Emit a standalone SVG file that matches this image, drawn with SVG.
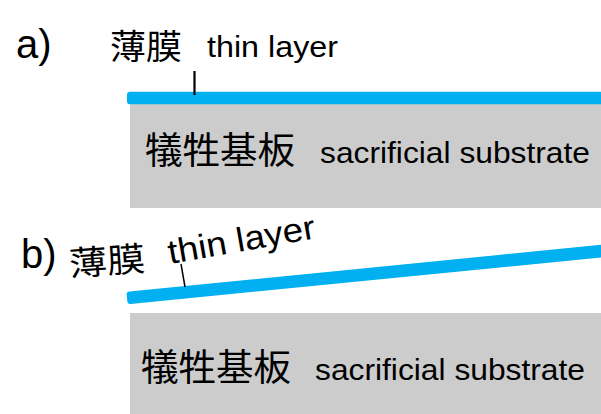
<svg xmlns="http://www.w3.org/2000/svg" width="601" height="414" viewBox="0 0 601 414">
<style>
.lat{font-family:"Liberation Sans",Arial,sans-serif;fill:#000}
.cjk{font-family:"Noto Sans CJK JP","Noto Sans CJK SC",sans-serif;fill:#000}
.sub{fill:#CCCCCC}
.film{fill:#00B0F0}
.tick{stroke:#000;fill:none}
</style>
<rect width="601" height="414" fill="#fff"/>
<g id="panel-a">
  <text class="lat" x="16" y="58" font-size="40">a)</text>
  <g id="substrate-a">
    <rect class="sub" x="130" y="104" width="471" height="104"/>
    <text class="cjk" x="145" y="163.5" font-size="37" textLength="150" lengthAdjust="spacingAndGlyphs">犠牲基板</text>
    <text class="lat" x="320" y="163" font-size="29" textLength="270" lengthAdjust="spacingAndGlyphs">sacrificial substrate</text>
  </g>
  <g id="film-a">
    <rect class="film" x="127" y="91.7" width="480" height="12.5" rx="3"/>
  </g>
  <g id="label-a">
    <text class="cjk" x="110" y="58.5" font-size="34" textLength="72" lengthAdjust="spacingAndGlyphs">薄膜</text>
    <text class="lat" x="207" y="57" font-size="30" textLength="131" lengthAdjust="spacingAndGlyphs">thin layer</text>
  </g>
</g>
<g id="panel-b">
  <text class="lat" x="21" y="268" font-size="40">b)</text>
  <g id="substrate-b">
    <rect class="sub" x="130" y="313" width="471" height="101"/>
    <text class="cjk" x="141" y="380.5" font-size="37" textLength="150" lengthAdjust="spacingAndGlyphs">犠牲基板</text>
    <text class="lat" x="315" y="380" font-size="29" textLength="270" lengthAdjust="spacingAndGlyphs">sacrificial substrate</text>
  </g>
  <g id="film-b">
    <rect class="film" x="0" y="-6.3" width="490" height="12.6" rx="3" transform="translate(127,298) rotate(-5.64)"/>
  </g>
  <g id="label-b">
    <text class="cjk" x="70" y="276" font-size="34" textLength="76" lengthAdjust="spacingAndGlyphs" transform="rotate(-4 70 276)">薄膜</text>
    <text class="lat" x="170" y="264" font-size="34" textLength="149" lengthAdjust="spacingAndGlyphs" transform="rotate(-10 170 264)">thin layer</text>
  </g>
</g>
<g id="connectors">
  <line class="tick" x1="194.5" y1="71" x2="194.5" y2="95" stroke-width="2.2"/>
  <line class="tick" x1="181" y1="264" x2="185" y2="287" stroke-width="1.5"/>
</g>
</svg>
